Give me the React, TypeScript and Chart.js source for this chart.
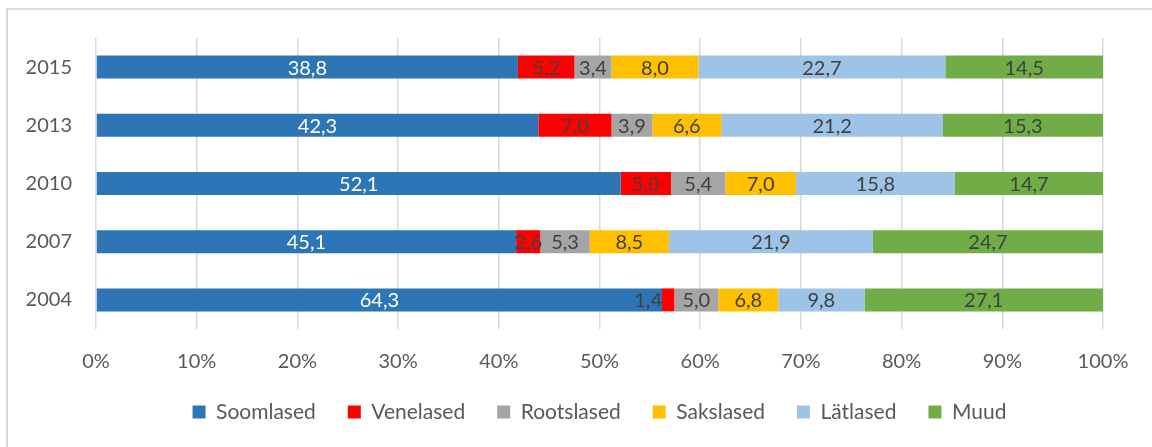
import React, { useEffect, useRef } from 'react';
import { Chart, registerables } from 'chart.js';

Chart.register(...registerables);

const years = ['2015', '2013', '2010', '2007', '2004'];
const soomlased = [38.8, 42.3, 52.1, 45.1, 64.3];
const venelased = [5.2, 7.0, 5.0, 2.6, 1.4];
const rootslased = [3.4, 3.9, 5.4, 5.3, 5.0];
const sakslased = [8.0, 6.6, 7.0, 8.5, 6.8];
const latlased = [22.7, 21.2, 15.8, 21.9, 9.8];
const muud = [14.5, 15.3, 14.7, 24.7, 27.1];

const seriesNames = ['Soomlased', 'Venelased', 'Rootslased', 'Sakslased', 'Lätlased', 'Muud'];
const seriesColors = ['#2E75B6', '#FF0000', '#A5A5A5', '#FFC000', '#9DC3E6', '#70AD47'];
const xTickValues = [0, 10, 20, 30, 40, 50, 60, 70, 80, 90, 100];

const FONT = 'Lato, "Open Sans", sans-serif';
const TEXT = '#595959';

export default function App() {
  const ref = useRef<HTMLCanvasElement>(null);

  useEffect(() => {
    if (!ref.current) return;
    const raw = [soomlased, venelased, rootslased, sakslased, latlased, muud];
    const totals = years.map((_, i) => raw.reduce((s, arr) => s + arr[i], 0));
    const datasets = raw.map((arr, k) => ({
      label: seriesNames[k],
      data: arr.map((v, i) => (v / totals[i]) * 100),
      rawValues: arr,
      backgroundColor: seriesColors[k],
      borderWidth: 0,
      barPercentage: 0.395,
      categoryPercentage: 1,
    }));

    const labelPlugin = {
      id: 'segLabels',
      afterDatasetsDraw(chart: any) {
        const ctx = chart.ctx;
        ctx.save();
        ctx.font = `20px ${FONT}`;
        ctx.textBaseline = 'middle';
        chart.data.datasets.forEach((ds: any, k: number) => {
          const meta = chart.getDatasetMeta(k);
          meta.data.forEach((bar: any, i: number) => {
            const txt = ds.rawValues[i].toFixed(1).replace('.', ',');
            const p = bar.getProps(['x', 'base', 'y'], true);
            const w = p.x - p.base;
            const tw = ctx.measureText(txt).width;
            ctx.fillStyle = k === 0 ? '#FFFFFF' : '#404040';
            if (w < tw / 2) {
              ctx.textAlign = 'right';
              ctx.fillText(txt, p.base, p.y + 1);
            } else {
              ctx.textAlign = 'center';
              ctx.fillText(txt, (p.x + p.base) / 2, p.y + 1);
            }
          });
        });
        ctx.restore();
      },
    };

    const framePlugin = {
      id: 'frame',
      beforeDraw(chart: any) {
        const ctx = chart.ctx;
        ctx.save();
        ctx.fillStyle = '#FFFFFF';
        ctx.fillRect(0, 0, chart.width, chart.height);
        ctx.strokeStyle = '#D9D9D9';
        ctx.lineWidth = 2;
        ctx.strokeRect(7, 9, 2000, 2000);
        ctx.restore();
      },
    };

    const chart = new Chart(ref.current, {
      type: 'bar',
      data: { labels: years, datasets: datasets as any },
      options: {
        indexAxis: 'y',
        responsive: false,
        animation: false,
        devicePixelRatio: 1,
        layout: { padding: { left: 0, right: 49, top: 38, bottom: 14.5 } },
        scales: {
          x: {
            stacked: true,
            min: 0,
            max: 100,
            afterBuildTicks: (s: any) => {
              s.ticks = xTickValues.map((v) => ({ value: v }));
            },
            afterFit: (s: any) => {
              s.height = 40.5;
            },
            grid: { color: '#D9D9D9', lineWidth: 1.5, drawTicks: false },
            border: { display: false },
            ticks: {
              padding: 21,
              color: TEXT,
              font: { family: FONT, size: 20 },
              callback: (v: any) => v + '%',
            },
          },
          y: {
            stacked: true,
            afterFit: (s: any) => {
              s.width = 96;
            },
            grid: { display: false, drawTicks: false },
            border: { display: false },
            ticks: {
              padding: 24,
              color: TEXT,
              font: { family: FONT, size: 20 },
            },
          },
        },
        plugins: {
          legend: {
            position: 'bottom',
            fullSize: false,
            labels: {
              boxWidth: 13,
              boxHeight: 13,
              padding: 32,
              color: TEXT,
              font: { family: FONT, size: 21 },
            },
          },
          tooltip: { enabled: false },
        },
      },
      plugins: [framePlugin, labelPlugin],
    });
    return () => chart.destroy();
  }, []);

  return (
    <div style={{ position: 'fixed', left: 0, top: 0, width: 1152, height: 447, background: '#fff' }}>
      <canvas ref={ref} width={1152} height={447} style={{ width: 1152, height: 447, display: 'block' }} />
    </div>
  );
}
